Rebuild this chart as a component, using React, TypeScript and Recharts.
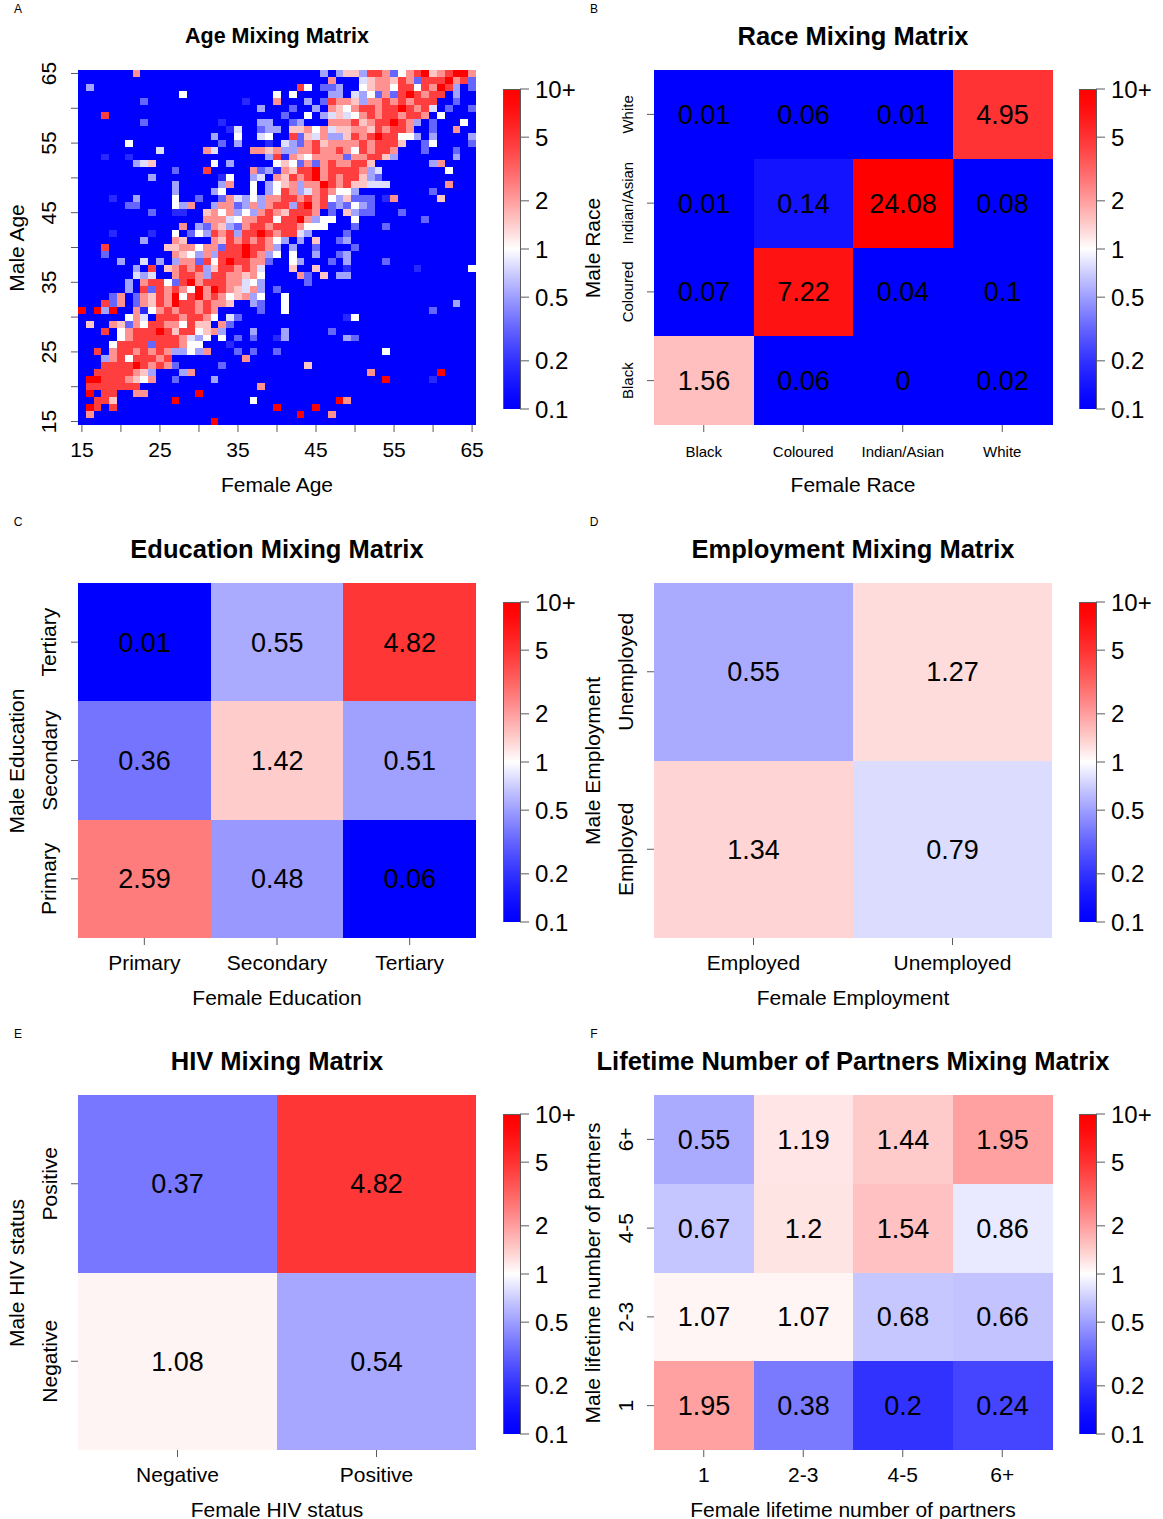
import {
  BarChart,
  Bar,
  Cell,
  XAxis,
  YAxis,
  LabelList,
  ReferenceLine,
  ReferenceArea,
} from "recharts";

const FONT = "'Liberation Sans', Arial, Helvetica, sans-serif";
const FRAME = "#5b5b5b";
const PLOT_W = 398;
const PLOT_H = 355;

// ---------- data ----------

const ages = Array.from({ length: 51 }, (_, i) => String(15 + i));
const ageTicks = ["15", "20", "25", "30", "35", "40", "45", "50", "55", "60", "65"];
const ageTickLabels = ["15", "25", "35", "45", "55", "65"];

// ratio level per character in the age grid
const AGE_LEVEL: Record<string, number> = {
  ".": 0.1,
  a: 0.18,
  b: 0.32,
  c: 0.52,
  d: 0.8,
  w: 1,
  p: 1.5,
  q: 2.2,
  r: 4.4,
  R: 10,
};

// male age rows from 65 (top) down to 15; each row is female age 15..65
// split in blocks of 17 (15-31, 32-48, 49-65)
const maleAgeRows = [
  [".......q.........", "..............c.c", "ppcrrqbwqrRpqrRRq"], // 65
  [".................", "...............q.", "..dpqqprqbrrrRqrb"],
  [".c...............", "...........rw.bbc", "..wpqqwrrwrqRrc.b"],
  [".............w...", "........w.w....cc", ".dcwbqbrRrqrr.c.."],
  ["........b........", "....a...q...c.brq", "qpcqqrqrqrrr..b.."],
  [".................", "......c...b..c.qp", "wqrrqrrRrqrd.b..b"], // 60
  ["...r.............", ".........b..w.cdp", "dwqrqrrqrrq.w...."],
  ["........b........", ".a....cc..bc...qq", "qrpqrrRrqc.b...w."],
  [".................", "..ad..bcc.ppqwqdp", "pqqprqrrq..b..q.."],
  [".................", "c..w..dw..rbpdqcc", "prqrRrrwwc.c....c"],
  ["......w..........", ".b.c...a.dcbqrpqq", "qqrqrrrp..bw....b"], // 55
  ["..........d.....q", "d....qqpqccqqrqqr", "qwrqrrq...b...b.."],
  ["...a..a..........", ".......craqpwqqqq", "bqqrrpc.......c.."],
  [".......cdp.......", "w.c.....wpwbqbqrq", "qrrp.......cq...."],
  ["............b...r", ".....qbcaqprrRqrr", "rrqcd........w..."],
  [".........c.......", ".aw..cd.qprqrRqrq", "rrpcb............"], // 50
  ["............c....", ".cq..w.cwpqcqqRrq", "rppddd.......q..."],
  ["............c....", "cw...w.cwrqcdqrqw", "wc.........b....."],
  ["....a..c....w..b.", ".bqdcwcqqrrqrqrwc", "pbbb.aq.....p...."],
  ["......bb....wcq..", "cqqbcqcqrrcrRqrbc", "bwcb............."],
  [".........b..aa..p", "qwqcwcqrqprrrq.b.", "pcbb...b........."], // 45
  ["................q", "qqdwqqrrwrrRqcww.", ".w........b......"],
  [".............q.cb", "qpcbqrrqrrrqwww..", ".b...b..........."],
  ["....a....a..w.bwc", "rqrcrrRrqrrdc....", "b................"],
  ["........c...qp...", "qprqrqrqwc.c.p..b", "c................"],
  ["...r.......ppqqwq", "qbrrRrrqc.c..b...", ".b..............."], // 40
  ["...b........qpwcq", "crrrRrqcw.w..c..b", "c................"],
  [".....c..d.c.cqqbr", "wrRrrqqb..wc...b.", "c....b..........."],
  [".......c.r.pqrqrc", "prrqrqd...p..p...", "a........a......w"],
  [".......dcd..qrrqc", "rrqqpqw....qb.p.c", "c................"],
  ["......c.qrrwbrRqr", "rrqqdwc.....b....", "................."], // 35
  ["......c.rbrqrqwRq", "Rrqpdqc.b........", "................."],
  ["....bq.bqprqRwrRq", "rqwpqcw..w.......", "................."],
  ["...rbq.bqprqRrrqr", "qqp..cb..w.......", "..............c.."],
  ["R.RcR..qawqrqrrqr", "q.....b..w.......", "...........b....."],
  ["......wqd.rrrqrrq", "w.db.............", "aw..............."], // 30
  [".p..qpbqwrrqqwrpp", ".qb..............", "................."],
  ["...r.wqrrrRrprrwp", "qc...c...c.....b.", "................."],
  [".....wqrrrrrrqdcw", ".w.b.b..ac.......", "cb..............."],
  ["....wrrrrbrrrqww.", "..a..............", "................."],
  ["..r.qrrqrqrqccwcq", "...b.b..b........", ".....w..........."], // 25
  ["...cqrwrrrqr.....", "....q............", "................."],
  ["...rrrrRrqrqb....", ".b..........p....", "................."],
  ["..rrrrrqpc...cq..", ".................", "...q........R...."],
  [".RRrrrqpwq..b....", "c................", ".....R.....a....."],
  [".rrrrrrr.........", "......q..........", "................."], // 20
  [".R.rr..qq......R.", ".................", "................."],
  ["..rrp.......R....", ".....w..........R", "q................"],
  [".Rr.r............", "........R....R...", "................."],
  [".q...............", "...........R...q.", "................."],
  [".................", "R................", "................."], // 15
];

const raceCats = ["Black", "Coloured", "Indian/Asian", "White"];
// male rows top to bottom: White, Indian/Asian, Coloured, Black
const raceMatrix = [
  [0.01, 0.06, 0.01, 4.95],
  [0.01, 0.14, 24.08, 0.08],
  [0.07, 7.22, 0.04, 0.1],
  [1.56, 0.06, 0, 0.02],
];

const eduCats = ["Primary", "Secondary", "Tertiary"];
const eduMatrix = [
  [0.01, 0.55, 4.82],
  [0.36, 1.42, 0.51],
  [2.59, 0.48, 0.06],
];

const empCats = ["Employed", "Unemployed"];
const empMatrix = [
  [0.55, 1.27],
  [1.34, 0.79],
];

const hivCats = ["Negative", "Positive"];
const hivMatrix = [
  [0.37, 4.82],
  [1.08, 0.54],
];

const partnerCats = ["1", "2-3", "4-5", "6+"];
const partnerMatrix = [
  [0.55, 1.19, 1.44, 1.95],
  [0.67, 1.2, 1.54, 0.86],
  [1.07, 1.07, 0.68, 0.66],
  [1.95, 0.38, 0.2, 0.24],
];

const scaleTicks = [0.1, 0.2, 0.5, 1, 2, 5, 10];
const scaleLabels = ["0.1", "0.2", "0.5", "1", "2", "5", "10+"];

// ---------- colour scale ----------

// log10 position in [-1, 1] -> blue / white / red
function rampColor(l: number) {
  const t = Math.pow(1 - Math.min(1, Math.abs(l)), 1.35);
  const c = Math.round(255 * t);
  return l < 0 ? `rgb(${c},${c},255)` : `rgb(255,${c},${c})`;
}

function heatColor(v: number) {
  const l = v > 0 ? Math.max(-1, Math.min(1, Math.log10(v))) : -1;
  return rampColor(l);
}

// ---------- components ----------

interface HeatmapProps {
  left: number;
  top: number;
  cats: string[];
  matrix: number[][]; // rows top to bottom as drawn
  tickCats?: string[];
  labelCats?: string[];
  tickFont: number;
  valueFont?: number;
  diagonal?: boolean;
}

const ML = 80;
const MT = 20;
const MR = 20;
const XH = 60;

function Heatmap({
  left,
  top,
  cats,
  matrix,
  tickCats = cats,
  labelCats = cats,
  tickFont,
  valueFont,
  diagonal,
}: HeatmapProps) {
  const n = cats.length;
  const values = [...matrix].reverse(); // bottom row first, so the stack grows upward
  const data = cats.map((c, j) => {
    const d: Record<string, string | number> = { female: c };
    cats.forEach((_, k) => {
      d[`m${k}`] = 1;
      d[`v${k}`] = values[k][j];
    });
    return d;
  });
  const yTicks = tickCats.map((c) => cats.indexOf(c) + 0.5);

  // eslint-disable-next-line @typescript-eslint/no-explicit-any
  const XTick = (p: any) =>
    labelCats.includes(p.payload.value) ? (
      <text x={p.x} y={p.y + 25} textAnchor="middle" fontSize={tickFont} fill="#000">
        {p.payload.value}
      </text>
    ) : (
      <g />
    );

  // eslint-disable-next-line @typescript-eslint/no-explicit-any
  const YTick = (p: any) => {
    const c = cats[Math.floor(p.payload.value)];
    if (!labelCats.includes(c)) return <g />;
    const bx = p.x - 14.5;
    return (
      <text
        x={bx}
        y={p.y}
        transform={`rotate(-90 ${bx} ${p.y})`}
        textAnchor="middle"
        fontSize={tickFont}
        fill="#000"
      >
        {c}
      </text>
    );
  };

  return (
    <div style={{ position: "absolute", left: left - ML, top: top - MT }}>
      <BarChart
        width={ML + PLOT_W + MR}
        height={MT + PLOT_H + XH}
        data={data}
        margin={{ top: MT, right: MR, bottom: 0, left: 0 }}
        barCategoryGap={0}
        barGap={0}
      >
        <XAxis
          dataKey="female"
          type="category"
          ticks={tickCats}
          interval={0}
          height={XH}
          tickSize={7}
          tickMargin={0}
          axisLine={false}
          tickLine={{ stroke: FRAME }}
          tick={<XTick />}
        />
        <XAxis xAxisId="n" type="number" domain={[0, n]} allowDataOverflow hide />
        <YAxis
          type="number"
          domain={[0, n]}
          allowDataOverflow
          ticks={yTicks}
          width={ML}
          tickSize={7}
          tickMargin={0}
          axisLine={false}
          tickLine={{ stroke: FRAME }}
          tick={<YTick />}
        />
        {cats.map((_, k) => (
          <Bar key={k} dataKey={`m${k}`} stackId="male" isAnimationActive={false}>
            {cats.map((_, j) => (
              <Cell key={j} fill={heatColor(values[k][j])} />
            ))}
            {valueFont && (
              <LabelList
                dataKey={`v${k}`}
                position="center"
                fill="#000"
                fontSize={valueFont}
                fontFamily={FONT}
              />
            )}
          </Bar>
        ))}
        {diagonal && (
          <ReferenceLine
            xAxisId="n"
            segment={[
              { x: 0, y: 0 },
              { x: n, y: n },
            ]}
            stroke="#000"
            strokeWidth={1}
          />
        )}
        <ReferenceArea
          xAxisId="n"
          x1={0}
          x2={n}
          y1={0}
          y2={n}
          fill="none"
          stroke={FRAME}
          strokeWidth={1}
        />
      </BarChart>
    </div>
  );
}

const BAR_H = 320;
const BAR_PAD = 14;

function ColorBar({ id, left, top }: { id: string; left: number; top: number }) {
  const stops = [];
  for (let i = 0; i <= 20; i++) {
    const l = -1 + i / 10;
    stops.push(<stop key={i} offset={i / 20} stopColor={rampColor(l)} />);
  }
  const logTicks = scaleTicks.map((t) => Math.log10(t));
  return (
    <div style={{ position: "absolute", left: left + PLOT_W + 27, top: top + 19 - BAR_PAD }}>
      <BarChart
        width={17 + 70}
        height={BAR_H + 2 * BAR_PAD}
        data={[{ k: "scale", span: [-1, 1] }]}
        margin={{ top: BAR_PAD, right: 0, bottom: BAR_PAD, left: 0 }}
        barCategoryGap={0}
      >
        <defs>
          <linearGradient id={id} x1="0" y1="1" x2="0" y2="0">
            {stops}
          </linearGradient>
        </defs>
        <XAxis dataKey="k" hide />
        <YAxis
          orientation="right"
          type="number"
          domain={[-1, 1]}
          allowDataOverflow
          ticks={logTicks}
          width={70}
          tickSize={9}
          tickMargin={6}
          axisLine={false}
          tickLine={{ stroke: FRAME }}
          tick={{ fontSize: 24, fill: "#000" }}
          tickFormatter={(v: number) =>
            scaleLabels[logTicks.findIndex((t) => Math.abs(t - v) < 1e-6)]
          }
        />
        <Bar dataKey="span" fill={`url(#${id})`} stroke={FRAME} isAnimationActive={false} />
      </BarChart>
    </div>
  );
}

function TextAt({
  x,
  y,
  size,
  bold,
  rotate,
  children,
}: {
  x: number;
  y: number;
  size: number;
  bold?: boolean;
  rotate?: boolean;
  children: React.ReactNode;
}) {
  return (
    <div
      style={{
        position: "absolute",
        left: x,
        top: y,
        transform: `translate(-50%, -50%)${rotate ? " rotate(-90deg)" : ""}`,
        whiteSpace: "nowrap",
        fontSize: size,
        fontWeight: bold ? 700 : 400,
        lineHeight: 1,
      }}
    >
      {children}
    </div>
  );
}

function PanelText({
  left,
  top,
  letter,
  title,
  titleSize = 25.5,
  xTitle,
  yTitle,
}: {
  left: number;
  top: number;
  letter: string;
  title: string;
  titleSize?: number;
  xTitle: string;
  yTitle: string;
}) {
  const cx = left + PLOT_W / 2;
  return (
    <>
      <TextAt x={left - 60} y={top - 61} size={12}>
        {letter}
      </TextAt>
      <TextAt x={cx} y={top - 33} size={titleSize} bold>
        {title}
      </TextAt>
      <TextAt x={cx} y={top + PLOT_H + 59} size={21}>
        {xTitle}
      </TextAt>
      <TextAt x={left - 62} y={top + PLOT_H / 2} size={21} rotate>
        {yTitle}
      </TextAt>
    </>
  );
}

const ageMatrix = maleAgeRows.map((blocks) =>
  blocks
    .join("")
    .split("")
    .map((ch) => AGE_LEVEL[ch])
);

export default function App() {
  const L1 = 78;
  const L2 = 654;
  const T1 = 70;
  const T2 = 583;
  const T3 = 1095;
  return (
    <div
      style={{
        position: "absolute",
        left: 0,
        top: 0,
        width: 1163,
        height: 1519,
        background: "#fff",
        color: "#000",
        fontFamily: FONT,
        overflow: "hidden",
      }}
    >
      <style>{`.recharts-bar-rectangle path { shape-rendering: crispEdges; }`}</style>

      <Heatmap
        left={L1}
        top={T1}
        cats={ages}
        matrix={ageMatrix}
        tickCats={ageTicks}
        labelCats={ageTickLabels}
        tickFont={21}
        diagonal
      />
      <ColorBar id="barA" left={L1} top={T1} />
      <PanelText
        left={L1}
        top={T1}
        letter="A"
        title="Age Mixing Matrix"
        titleSize={21.5}
        xTitle="Female Age"
        yTitle="Male Age"
      />

      <Heatmap left={L2} top={T1} cats={raceCats} matrix={raceMatrix} tickFont={15} valueFont={27} />
      <ColorBar id="barB" left={L2} top={T1} />
      <PanelText left={L2} top={T1} letter="B" title="Race Mixing Matrix" xTitle="Female Race" yTitle="Male Race" />

      <Heatmap left={L1} top={T2} cats={eduCats} matrix={eduMatrix} tickFont={21} valueFont={27} />
      <ColorBar id="barC" left={L1} top={T2} />
      <PanelText
        left={L1}
        top={T2}
        letter="C"
        title="Education Mixing Matrix"
        xTitle="Female Education"
        yTitle="Male Education"
      />

      <Heatmap left={L2} top={T2} cats={empCats} matrix={empMatrix} tickFont={21} valueFont={27} />
      <ColorBar id="barD" left={L2} top={T2} />
      <PanelText
        left={L2}
        top={T2}
        letter="D"
        title="Employment Mixing Matrix"
        xTitle="Female Employment"
        yTitle="Male Employment"
      />

      <Heatmap left={L1} top={T3} cats={hivCats} matrix={hivMatrix} tickFont={21} valueFont={27} />
      <ColorBar id="barE" left={L1} top={T3} />
      <PanelText
        left={L1}
        top={T3}
        letter="E"
        title="HIV Mixing Matrix"
        xTitle="Female HIV status"
        yTitle="Male HIV status"
      />

      <Heatmap left={L2} top={T3} cats={partnerCats} matrix={partnerMatrix} tickFont={21} valueFont={27} />
      <ColorBar id="barF" left={L2} top={T3} />
      <PanelText
        left={L2}
        top={T3}
        letter="F"
        title="Lifetime Number of Partners Mixing Matrix"
        xTitle="Female lifetime number of partners"
        yTitle="Male lifetime number of partners"
      />
    </div>
  );
}
